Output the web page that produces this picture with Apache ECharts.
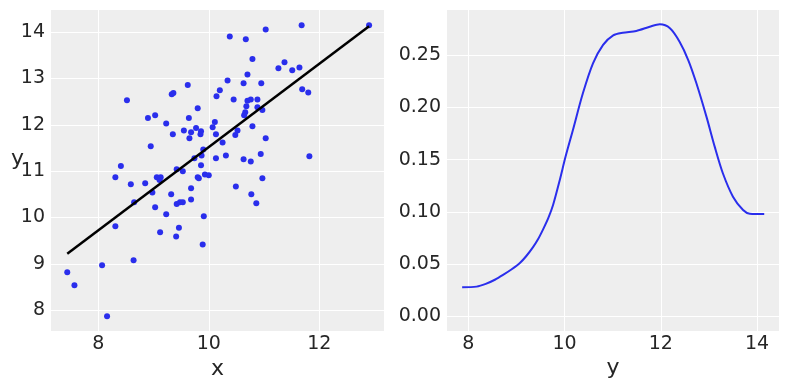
<!DOCTYPE html>
<html><head><meta charset="utf-8">
<script src="https://cdn.jsdelivr.net/npm/echarts@6/dist/echarts.min.js"></script>
<style>html,body{margin:0;padding:0;background:#fff}#c{width:789px;height:390px}</style>
</head><body><div id="c"></div>
<script>
// Left panel: scatter of (x, y)
const scatterX = [8.52,9.33,9.36,9.62,9.80,8.90,9.03,9.64,10.38,10.67,11.03,11.68,12.90,10.79,11.26,11.37,11.51,11.64,10.70,10.34,
  10.63,10.95,10.20,10.14,10.45,10.70,10.76,10.88,11.69,11.80,10.68,10.88,10.97,10.66,10.64,9.23,9.35,9.55,9.65,9.68,
  9.77,9.86,9.85,10.07,10.11,10.13,10.25,10.48,10.52,10.79,11.03,8.95,8.41,8.31,8.59,8.85,9.06,9.13,9.11,8.98,
  9.32,9.42,9.53,9.74,9.86,9.87,9.90,9.93,10.00,9.80,9.82,9.68,9.68,9.42,9.48,9.53,9.03,9.23,9.91,10.13,
  10.31,10.63,10.76,10.94,10.97,10.49,10.77,10.86,11.82,8.65,8.31,9.46,9.12,9.41,9.89,7.44,7.57,8.07,8.64,8.16];
const scatterY = [12.53,12.66,12.69,12.86,12.36,12.15,12.21,12.15,13.91,13.85,14.06,14.15,14.15,13.42,13.22,13.35,13.18,13.24,13.09,12.96,
  12.90,12.90,12.75,12.62,12.55,12.52,12.55,12.55,12.77,12.70,12.40,12.38,12.32,12.27,12.21,12.03,11.80,11.88,11.71,11.84,
  11.93,11.86,11.80,11.95,12.06,11.80,11.62,11.78,11.88,11.97,11.71,11.54,11.11,10.87,10.72,10.74,10.87,10.87,10.81,10.54,
  10.50,11.04,11.00,11.28,11.13,11.34,11.47,10.93,10.91,10.87,10.85,10.63,10.39,10.29,10.33,10.33,10.22,10.07,10.03,11.28,
  11.34,11.26,11.21,11.37,10.85,10.67,10.50,10.31,11.32,10.33,9.81,9.78,9.68,9.59,9.42,8.82,8.54,8.97,9.08,7.87];
// Fitted line endpoints
const lineX = [7.44, 12.90];
const lineY = [9.22, 14.13];
// Right panel: density of y
const kdeX = [7.87,8.17,8.36,8.55,8.72,8.90,9.07,9.20,9.34,9.45,9.55,9.66,9.76,9.90,10.02,10.17,10.38,10.59,10.80,11.01,
  11.21,11.49,11.77,11.98,12.19,12.39,12.57,12.74,12.95,13.12,13.29,13.50,13.71,13.85,14.15];
const kdeY = [0.0278,0.0284,0.031,0.035,0.0396,0.045,0.051,0.0575,0.066,0.074,0.083,0.094,0.1066,0.1306,0.153,0.178,0.2136,0.2423,0.260,0.2691,
  0.2716,0.2733,0.2774,0.2797,0.2759,0.263,0.2455,0.2232,0.191,0.1625,0.137,0.1146,0.1018,0.0983,0.098];
// Tick labels
const leftXTicks = [8, 10, 12];
const leftYTicks = [8, 9, 10, 11, 12, 13, 14];
const rightXTicks = [8, 10, 12, 14];
const rightYTicks = [0, 0.05, 0.10, 0.15, 0.20, 0.25];

const TXT = '#262626';
const FONT = 'DejaVu Sans';
function axis(gridIndex, min, max, ticks, fmt, margin, extra) {
  return Object.assign({
    type: 'value', gridIndex, min, max,
    nameMoveOverlap: false,
    axisLine: {show: false},
    axisTick: {show: false, customValues: ticks},
    axisLabel: {customValues: ticks, formatter: fmt, fontSize: 19, color: TXT, fontFamily: FONT, margin},
    splitLine: {show: true, lineStyle: {color: '#ffffff', width: 1}}
  }, extra || {});
}
const nameStyle = {fontSize: 22, color: TXT, fontFamily: FONT};

const chart = echarts.init(document.getElementById('c'), null, {renderer: 'canvas'});
chart.setOption({
  animation: false,
  backgroundColor: '#ffffff',
  grid: [
    {left: 51, top: 10, width: 333, height: 321, show: true, backgroundColor: '#eeeeee', borderWidth: 0},
    {left: 447, top: 10, width: 332, height: 321, show: true, backgroundColor: '#eeeeee', borderWidth: 0}
  ],
  xAxis: [
    axis(0, 7.146, 13.17, leftXTicks, v => String(v), 4, {name: 'x', nameLocation: 'middle', nameGap: 27, nameTextStyle: nameStyle}),
    axis(1, 7.555, 14.457, rightXTicks, v => String(v), 4, {name: 'y', nameLocation: 'middle', nameGap: 26, nameTextStyle: nameStyle})
  ],
  yAxis: [
    axis(0, 7.55, 14.48, leftYTicks, v => String(v), 6, {name: 'y', nameLocation: 'middle', nameRotate: 0, nameGap: 27,
      nameTextStyle: Object.assign({verticalAlign: 'bottom', lineHeight: 22}, nameStyle)}),
    axis(1, -0.0141, 0.2934, rightYTicks, v => v.toFixed(2), 6)
  ],
  series: [
    {type: 'scatter', xAxisIndex: 0, yAxisIndex: 0, symbolSize: 6,
      itemStyle: {color: '#2a2eec', opacity: 1},
      data: scatterX.map((x, i) => [x, scatterY[i]]), z: 2},
    {type: 'line', xAxisIndex: 0, yAxisIndex: 0, showSymbol: false, symbol: 'none',
      lineStyle: {color: '#000000', width: 2.5},
      data: lineX.map((x, i) => [x, lineY[i]]), z: 3},
    {type: 'line', xAxisIndex: 1, yAxisIndex: 1, showSymbol: false, symbol: 'none', smooth: 0.3,
      lineStyle: {color: '#2a2eec', width: 2},
      data: kdeX.map((x, i) => [x, kdeY[i]]), z: 3}
  ]
});
</script></body></html>
